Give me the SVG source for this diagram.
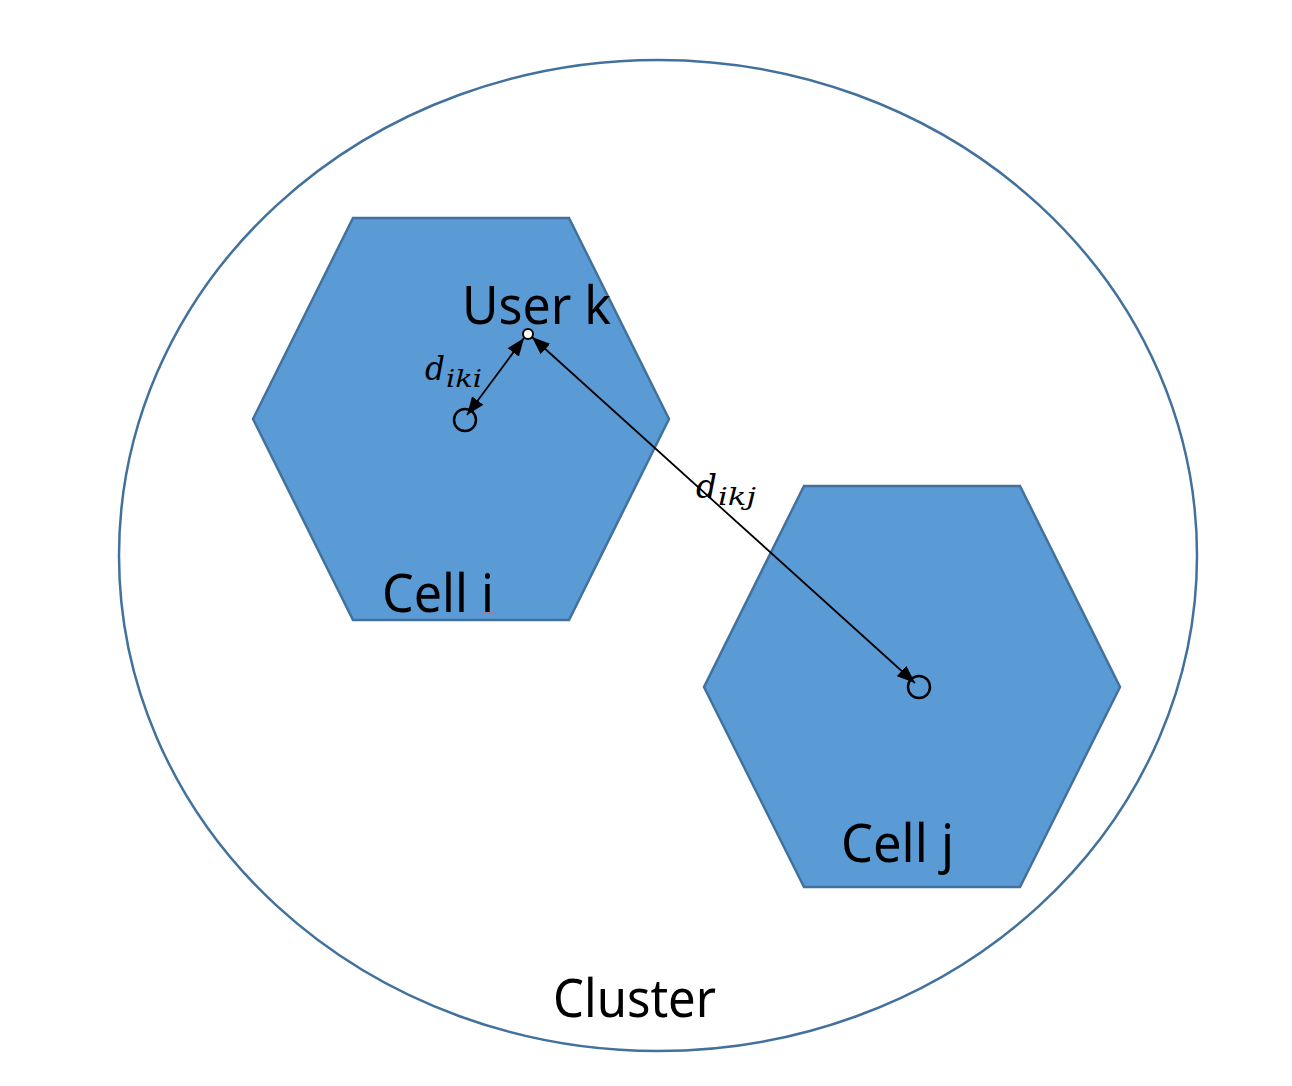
<svg xmlns="http://www.w3.org/2000/svg" width="1292" height="1086" viewBox="0 0 1292 1086">
<defs>
<style>
.cell{fill:#5B9BD5;stroke:#41719C;stroke-width:2.5}
.lbl{font-family:"Noto Sans","Noto Sans CJK SC",sans-serif;font-size:53px;fill:#000}
.pt{fill:none;stroke:#000;stroke-width:2.5}
.conn{stroke:#000;stroke-width:1.8;fill:none}
.m{font-family:"DejaVu Serif","Liberation Serif",serif;font-style:italic;fill:#000}
</style>
<marker id="ah" viewBox="0 0 18 14" markerWidth="18" markerHeight="14" refX="18" refY="7" orient="auto-start-reverse" markerUnits="userSpaceOnUse">
<path d="M0,0 L18,7 L0,14 z" fill="#000"/>
</marker>
</defs>
<rect width="1292" height="1086" fill="#fff"/>
<g id="cluster">
<ellipse cx="658" cy="555.5" rx="539" ry="495.5" fill="none" stroke="#41719C" stroke-width="2.5"/>
<text class="lbl" x="553" y="1017" textLength="163" lengthAdjust="spacingAndGlyphs">Cluster</text>
</g>
<g id="cell-i">
<polygon class="cell" points="353,218 569,218 669,419 569,620 353,620 253,419"/>
<text class="lbl" x="382" y="612" textLength="112" lengthAdjust="spacingAndGlyphs">Cell i</text>
<path d="M484,612 l2,2 l2,-2 l2,2 l2,-2 l2,2 l2,-2" fill="none" stroke="#E0606E" stroke-width="1"/>
<circle class="pt" cx="465" cy="420" r="11"/>
</g>
<g id="cell-j">
<polygon class="cell" points="804,486 1020,486 1120,687 1020,887 804,887 704,687"/>
<text class="lbl" x="841" y="862" textLength="113" lengthAdjust="spacingAndGlyphs">Cell j</text>
<circle class="pt" cx="919" cy="687" r="11"/>
</g>
<g id="user-k">
<text class="lbl" x="462" y="324" textLength="149" lengthAdjust="spacingAndGlyphs">User k</text>
<circle cx="528" cy="334" r="5" fill="#fff" stroke="#000" stroke-width="2"/>
</g>
<g id="connectors">
<line class="conn" x1="467" y1="415" x2="524" y2="338" marker-start="url(#ah)" marker-end="url(#ah)"/>
<line class="conn" x1="532" y1="337" x2="915" y2="683" marker-start="url(#ah)" marker-end="url(#ah)"/>
<text class="m" font-size="33"><tspan x="425" y="380" textLength="20" lengthAdjust="spacingAndGlyphs">d</tspan><tspan x="446" y="387" font-size="25" textLength="36" lengthAdjust="spacingAndGlyphs">iki</tspan></text>
<text class="m" font-size="33"><tspan x="696" y="498" textLength="21" lengthAdjust="spacingAndGlyphs">d</tspan><tspan x="718" y="505" font-size="25" textLength="38" lengthAdjust="spacingAndGlyphs">ikj</tspan></text>
</g>
</svg>
